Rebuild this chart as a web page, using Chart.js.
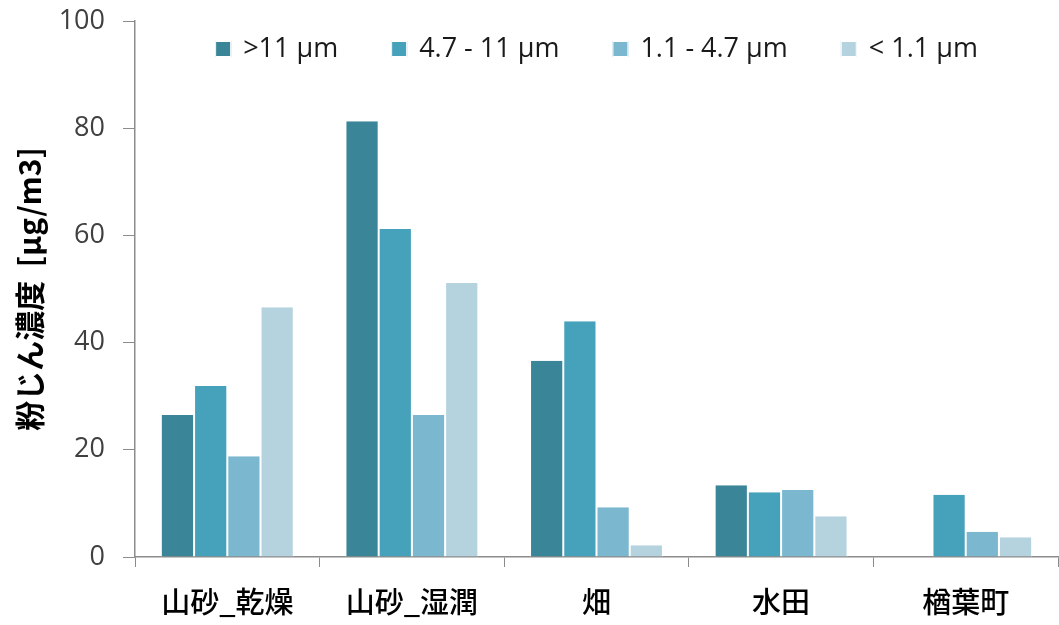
<!DOCTYPE html>
<html>
<head>
<meta charset="utf-8">
<script src="https://cdn.jsdelivr.net/npm/chart.js@4.4.1/dist/chart.umd.min.js"></script>
<style>
  html, body { margin: 0; padding: 0; background: #fff; }
  #wrap { width: 1059px; height: 625px; }
</style>
</head>
<body>
<div id="wrap"><canvas id="dust-chart"></canvas></div>
<script>
const categories = ['山砂_乾燥', '山砂_湿潤', '畑', '水田', '楢葉町'];
const seriesNames = ['>11 µm', '4.7 - 11 µm', '1.1 - 4.7 µm', '< 1.1 µm'];
const over11 = [26.5, 81.3, 36.6, 13.4, null];
const from47to11 = [31.9, 61.2, 44.0, 12.1, 11.6];
const from11to47 = [18.8, 26.5, 9.3, 12.5, 4.7];
const under11 = [46.6, 51.1, 2.2, 7.6, 3.7];
const yTicks = [0, 20, 40, 60, 80, 100];

const seriesValues = [over11, from47to11, from11to47, under11];
const seriesColors = ['#3a8698', '#46a1ba', '#7bb8cf', '#b4d3df'];
const axisGrey = '#8c8c8c';

// legend drawn inside the plot, one row, like the original sheet
const inPlotLegend = {
    id: 'inPlotLegend',
    afterDraw (chart) {
        const { ctx, chartArea } = chart;
        const box = 16;
        const boxGap = 12;
        const itemGap = 53;
        ctx.save();
        ctx.font = '27px "Open Sans"';
        ctx.textBaseline = 'middle';
        const items = chart.data.datasets.map(ds => ({
            text: ds.label,
            color: ds.backgroundColor,
            width: box + boxGap + ctx.measureText(ds.label).width
        }));
        const total = items.reduce((sum, it) => sum + it.width, 0) + itemGap * (items.length - 1);
        let x = (chartArea.left + chartArea.right) / 2 - total / 2;
        const y = 49;
        items.forEach(it => {
            ctx.fillStyle = it.color;
            ctx.fillRect(x, y - box / 2, box, box);
            ctx.strokeStyle = '#ffffff';
            ctx.lineWidth = 1;
            ctx.strokeRect(x + 0.5, y - box / 2 + 0.5, box - 1, box - 1);
            ctx.fillStyle = '#1a1a1a';
            ctx.fillText(it.text, x + box + boxGap, y);
            x += it.width + itemGap;
        });
        ctx.restore();
    }
};

new Chart(
    document.getElementById('dust-chart'),
    {
        type: 'bar',
        data: {
            labels: categories,
            datasets: seriesNames.map((name, i) => ({
                label: name,
                data: seriesValues[i],
                backgroundColor: seriesColors[i],
                borderColor: '#ffffff',
                borderWidth: { left: 1, right: 1, top: 0, bottom: 0 },
                categoryPercentage: 0.72,
                barPercentage: 1
            }))
        },
        plugins: [inPlotLegend],
        options: {
            responsive: true,
            maintainAspectRatio: false,
            animation: false,
            layout: {
                padding: { top: 21, right: 1, bottom: 0, left: 0 }
            },
            plugins: {
                legend: { display: false },
                tooltip: { enabled: false }
            },
            scales: {
                x: {
                    grid: {
                        display: true,
                        drawOnChartArea: false,
                        offset: true,
                        color: axisGrey,
                        tickLength: 10
                    },
                    border: { color: axisGrey, width: 1.5 },
                    ticks: {
                        color: '#000000',
                        padding: 18,
                        font: { family: 'Noto Sans CJK JP', size: 29, weight: '500' }
                    },
                    afterFit: (scale) => { scale.height = 68; }
                },
                y: {
                    min: 0,
                    max: 100,
                    afterBuildTicks: (scale) => {
                        scale.ticks = yTicks.map(v => ({ value: v }));
                    },
                    grid: {
                        display: true,
                        drawOnChartArea: false,
                        color: axisGrey,
                        tickLength: 12
                    },
                    border: { color: axisGrey, width: 1.5 },
                    ticks: {
                        color: '#404040',
                        padding: 18,
                        font: { family: 'Open Sans', size: 27 }
                    },
                    title: {
                        display: true,
                        text: '粉じん濃度  [µg/m3]',
                        color: '#000000',
                        padding: { top: 12, bottom: 0 },
                        font: { family: 'Noto Sans CJK JP', size: 30, weight: 'bold' }
                    },
                    afterFit: (scale) => {
                        scale.width = 135;
                        scale.paddingTop = 0;
                        scale.paddingBottom = 0;
                    }
                }
            }
        }
    }
);
</script>
</body>
</html>
